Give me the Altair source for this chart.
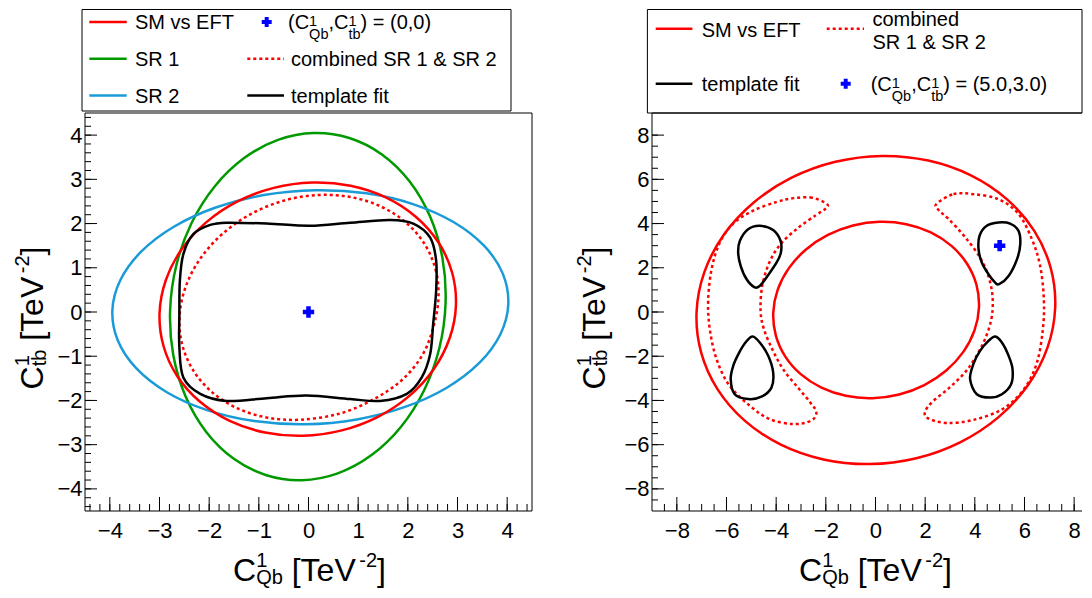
import altair as alt
import pandas as pd

FONT = "Liberation Sans"
H_PLOT = 398
W_LEFT, W_RIGHT = 447, 430
RED, GREEN, BLUE, BLACK, MARK = "#ff0000", "#009a00", "#1a9bd7", "#000000", "#0000ff"

# ---------------- axes ----------------
L_XLIM, L_YLIM = [-4.5, 4.5], [-4.5, 4.5]
R_XLIM, R_YLIM = [-9.0, 8.316], [-9.0, 9.0]
L_LABELS = [-4, -3, -2, -1, 0, 1, 2, 3, 4]
R_LABELS = [-8, -6, -4, -2, 0, 2, 4, 6, 8]
L_MINOR = [round(-4.4 + 0.2 * k, 1) for k in range(45)]
R_MINOR = [-8.5 + 0.5 * k for k in range(34)]

# ---------------- left panel contours ----------------
L_SM_X = [2.969, 2.891, 2.615, 2.159, 1.556, 0.845, 0.076, -0.699, -1.428, -2.061, -2.554, -2.873,
          -2.999, -2.921, -2.645, -2.189, -1.586, -0.875, -0.106, 0.669, 1.398, 2.031, 2.524, 2.843]
L_SM_Y = [0.156, 0.894, 1.576, 2.154, 2.591, 2.855, 2.929, 2.807, 2.500, 2.026, 1.418, 0.718,
          -0.026, -0.764, -1.446, -2.024, -2.461, -2.725, -2.799, -2.677, -2.370, -1.896, -1.288, -0.588]

L_SR1_X = [2.760, 2.697, 2.448, 2.033, 1.478, 0.821, 0.107, -0.615, -1.296, -1.889, -2.354, -2.661,
           -2.786, -2.723, -2.474, -2.059, -1.504, -0.847, -0.133, 0.589, 1.270, 1.863, 2.328, 2.635]
L_SR1_Y = [0.205, 1.218, 2.157, 2.957, 3.564, 3.935, 4.048, 3.893, 3.480, 2.839, 2.013, 1.058,
           0.039, -0.974, -1.913, -2.713, -3.320, -3.691, -3.804, -3.649, -3.236, -2.595, -1.769, -0.814]

L_SR2_X = [4.023, 3.913, 3.539, 2.927, 2.117, 1.166, 0.137, -0.898, -1.869, -2.711, -3.365, -3.787,
           -3.949, -3.839, -3.465, -2.853, -2.043, -1.092, -0.063, 0.972, 1.943, 2.785, 3.439, 3.861]
L_SR2_Y = [0.180, 0.862, 1.493, 2.030, 2.435, 2.683, 2.754, 2.645, 2.363, 1.928, 1.369, 0.724,
           0.037, -0.646, -1.277, -1.814, -2.219, -2.467, -2.538, -2.429, -2.147, -1.712, -1.153, -0.508]

L_COMB_X = [2.614, 2.569, 2.350, 1.971, 1.459, 0.848, 0.180, -0.500, -1.145, -1.711, -2.160, -2.461,
            -2.594, -2.549, -2.330, -1.951, -1.439, -0.828, -0.160, 0.620, 1.300, 1.870, 2.280, 2.500]
L_COMB_Y = [0.265, 0.917, 1.514, 2.014, 2.385, 2.599, 2.645, 2.517, 2.225, 1.788, 1.236, 0.607,
            -0.055, -0.707, -1.304, -1.804, -2.175, -2.389, -2.435, -2.300, -1.980, -1.550, -1.000, -0.397]

L_FIT_X = [-1.65, -0.84, 0.03, 0.84, 1.64, 2.11, 2.45, 2.57, 2.57, 2.51, 2.45, 2.28, 1.98, 1.44, 0.84, -0.04,
           -0.84, -1.65, -2.18, -2.52, -2.60, -2.60, -2.59, -2.52, -2.32, -1.98]
L_FIT_Y = [2.02, 2.00, 1.95, 2.02, 2.08, 2.00, 1.68, 1.16, 0.48, -0.27, -0.95, -1.48, -1.85, -2.01, -1.97, -1.89,
           -1.95, -2.01, -1.85, -1.48, -0.80, -0.05, 0.71, 1.31, 1.76, 1.97]

L_POINT_X, L_POINT_Y = [0.0], [0.0]

# ---------------- right panel contours ----------------
R_OUT_X = [7.236, 7.055, 6.394, 5.298, 3.843, 2.125, 0.265, -1.613, -3.379, -4.914, -6.114, -6.895,
           -7.206, -7.025, -6.364, -5.268, -3.813, -2.095, -0.235, 1.643, 3.409, 4.944, 6.144, 6.925]
R_OUT_Y = [0.195, 1.995, 3.666, 5.092, 6.178, 6.848, 7.059, 6.794, 6.072, 4.944, 3.484, 1.793,
           -0.015, -1.815, -3.486, -4.912, -5.998, -6.668, -6.879, -6.614, -5.892, -4.764, -3.304, -1.613]

R_IN_X = [4.167, 4.065, 3.687, 3.060, 2.226, 1.242, 0.175, -0.902, -1.916, -2.798, -3.487, -3.937,
          -4.117, -4.015, -3.637, -3.010, -2.176, -1.192, -0.125, 0.952, 1.966, 2.848, 3.537, 3.987]
R_IN_Y = [0.206, 1.234, 2.184, 2.992, 3.602, 3.972, 4.078, 3.912, 3.486, 2.828, 1.984, 1.010,
          -0.026, -1.054, -2.004, -2.812, -3.422, -3.792, -3.898, -3.732, -3.306, -2.648, -1.804, -0.830]

R_CL_X = [-1.95, -2.55, -3.30, -4.00, -4.93, -5.73, -6.27, -6.60, -6.74, -6.67, -6.40, -5.90, -5.06, -4.25, -3.31, -2.60, -2.38,
          -2.62, -3.10, -3.70, -4.15, -4.50, -4.63, -4.55, -4.25, -3.80, -3.10, -2.40, -2.02]
R_CL_Y = [4.88, 5.17, 5.15, 4.97, 4.58, 4.00, 3.14, 1.94, 0.50, -0.80, -2.13, -3.30, -4.24, -4.85, -5.07, -4.92, -4.55,
          -4.10, -3.45, -2.62, -1.70, -0.75, 0.10, 1.25, 2.30, 3.10, 3.82, 4.38, 4.66]

R_CR_X = [2.45, 3.14, 3.94, 4.95, 5.75, 6.30, 6.63, 6.78, 6.74, 6.50, 5.98, 5.10, 3.94, 2.87, 2.10, 2.00,
          2.30, 3.00, 3.70, 4.30, 4.65, 4.72, 4.58, 4.25, 3.60, 2.95, 2.55]
R_CR_Y = [4.88, 5.33, 5.33, 5.10, 4.45, 3.29, 2.09, 0.58, -0.78, -2.29, -3.49, -4.40, -4.88, -5.02, -4.80, -4.50,
          -4.05, -3.40, -2.60, -1.50, -0.40, 0.58, 1.50, 2.39, 3.40, 4.20, 4.60]

R_T1_X = [4.98, 5.36, 5.70, 5.83, 5.76, 5.42, 4.95, 4.48, 4.19, 4.15, 4.28, 4.55, 4.82]
R_T1_Y = [1.26, 1.63, 2.39, 3.07, 3.67, 4.00, 4.05, 3.90, 3.45, 2.84, 2.24, 1.71, 1.33]
R_T2_X = [-4.86, -5.19, -5.43, -5.53, -5.46, -5.13, -4.66, -4.12, -3.82, -3.81, -3.98, -4.39, -4.66]
R_T2_Y = [1.11, 1.48, 2.09, 2.69, 3.22, 3.74, 3.90, 3.71, 3.21, 2.69, 2.24, 1.56, 1.18]
R_T3_X = [-4.95, -4.66, -4.32, -4.12, -4.19, -4.59, -5.13, -5.67, -5.83, -5.73, -5.49, -5.22]
R_T3_Y = [-1.11, -1.38, -1.98, -2.74, -3.42, -3.83, -3.94, -3.72, -3.04, -2.44, -1.84, -1.36]
R_T4_X = [4.82, 5.09, 5.36, 5.52, 5.46, 5.09, 4.62, 4.08, 3.81, 3.94, 4.21, 4.55]
R_T4_Y = [-1.11, -1.38, -1.98, -2.59, -3.27, -3.72, -3.87, -3.72, -3.04, -2.36, -1.76, -1.31]

R_POINT_X, R_POINT_Y = [5.0], [3.0]

# ---------------- legend / title texts ----------------
LEG_SM, LEG_SR1, LEG_SR2 = "SM vs EFT", "SR 1", "SR 2"
LEG_COMB, LEG_COMB_A, LEG_COMB_B = "combined SR 1 & SR 2", "combined", "SR 1 & SR 2"
LEG_FIT = "template fit"
L_PT_LABEL = [("(C", "n"), ("1", "sup"), ("Qb", "sub"), (",C", "n"), ("1", "sup"), ("tb", "sub"), (") = (0,0)", "n")]
R_PT_LABEL = [("(C", "n"), ("1", "sup"), ("Qb", "sub"), (",C", "n"), ("1", "sup"), ("tb", "sub"), (") = (5.0,3.0)", "n")]
X_TITLE = [("C", "n"), ("1", "sup"), ("Qb", "sub"), (" [TeV", "n"), ("-2", "sup"), ("]", "n")]
Y_TITLE = [("C", "n"), ("1", "sup"), ("tb", "sub"), (" [TeV", "n"), ("-2", "sup"), ("]", "n")]

# Liberation Sans advance widths (1/1000 em)
ADV = {' ': 278, '(': 333, ')': 333, ',': 278, '=': 584, '[': 278, ']': 278, '-': 333, '&': 667, '.': 278,
       'C': 722, 'E': 667, 'F': 611, 'M': 833, 'Q': 778, 'R': 722, 'S': 667, 'T': 611, 'V': 667,
       'a': 556, 'b': 556, 'c': 500, 'd': 556, 'e': 556, 'f': 278, 'i': 222, 'l': 222, 'm': 833,
       'n': 556, 'o': 556, 'p': 556, 's': 500, 't': 278, 'u': 556, 'v': 500}


def adv(s, fs):
    return sum(ADV.get(ch, 556) for ch in s) * fs / 1000.0


def rich(segs, fs, sfs, up, down):
    out, pos, k = [], 0.0, 0
    while k < len(segs):
        t, r = segs[k]
        if r == "n":
            lead = len(t) - len(t.lstrip(" "))
            pos += adv(" " * lead, fs)
            t = t.lstrip(" ")
            out.append((pos, 0.0, t, fs))
            pos += adv(t, fs)
            k += 1
        elif r == "sup" and k + 1 < len(segs) and segs[k + 1][1] == "sub":
            t2 = segs[k + 1][0]
            out.append((pos, -up, t, sfs))
            out.append((pos, down, t2, sfs))
            pos += max(adv(t, sfs), adv(t2, sfs))
            k += 2
        elif r == "sup":
            out.append((pos, -up, t, sfs))
            pos += adv(t, sfs)
            k += 1
        else:
            out.append((pos, down, t, sfs))
            pos += adv(t, sfs)
            k += 1
    return out, pos


TITLE_P = (32, 20, 14.0, 2.5)
LEG_P = (20, 14.5, 3.5, 10.0)


def contour_df(items):
    rows = []
    for name, xs, ys in items:
        for i, (a, b) in enumerate(zip(xs, ys)):
            rows.append({"c": name, "i": i, "x": a, "y": b})
    return pd.DataFrame(rows)


def panel(width, xlim, ylim, lines, point, labels, minor, box, leg_lines, leg_cross, htexts, rtexts,
          right_frame=True, anchor=None):
    def to_x(px):
        return xlim[0] + px * (xlim[1] - xlim[0]) / width

    def to_y(py):
        return ylim[1] - py * (ylim[1] - ylim[0]) / H_PLOT

    sx = alt.Scale(domain=xlim, nice=False, zero=False)
    sy = alt.Scale(domain=ylim, nice=False, zero=False)
    ax = alt.Axis(values=labels, format="d", title=None, ticks=False, domain=False, grid=False,
                  labelFont=FONT, labelFontSize=22, labelColor="black", labelPadding=9,
                  labelFlush=False, labelOverlap=False)
    ay = alt.Axis(values=labels, format="d", title=None, ticks=False, domain=False, grid=False,
                  labelFont=FONT, labelFontSize=22, labelColor="black", labelPadding=3,
                  labelOverlap=False)

    def X(f="x"):
        return alt.X(f, type="quantitative", scale=sx, axis=ax)

    def Y(f="y"):
        return alt.Y(f, type="quantitative", scale=sy, axis=ay)

    layers = []
    bx = pd.DataFrame([{"x": to_x(box[0]), "x2": to_x(box[1]), "y": to_y(box[2]), "y2": to_y(box[3])}])
    layers.append(alt.Chart(bx).mark_rect(fill="white", stroke="black", strokeWidth=1)
                  .encode(x=X(), x2="x2", y=Y(), y2="y2"))
    for items, color, dotted in lines:
        kw = dict(interpolate="cardinal-closed", color=color, strokeWidth=2.5)
        if dotted:
            kw["strokeDash"] = [3, 3]
        layers.append(alt.Chart(contour_df(items)).mark_line(**kw)
                      .encode(x=X(), y=Y(), detail="c:N", order="i:Q"))
    hf = pd.DataFrame({"x": [xlim[0], xlim[0]], "x2": [xlim[1], xlim[1]], "y": [ylim[0], ylim[1]]})
    layers.append(alt.Chart(hf).mark_rule(color="black", strokeWidth=1).encode(x=X(), x2="x2", y=Y()))
    vx = [xlim[0], xlim[1]] if right_frame else [xlim[0]]
    vf = pd.DataFrame({"x": vx, "y": [ylim[0]] * len(vx), "y2": [ylim[1]] * len(vx)})
    layers.append(alt.Chart(vf).mark_rule(color="black", strokeWidth=1).encode(x=X(), y=Y(), y2="y2"))
    mn = pd.DataFrame({"v": minor})
    mj = pd.DataFrame({"v": labels})
    layers.append(alt.Chart(mn).mark_rule(color="black", strokeWidth=1)
                  .encode(x=X("v"), y=alt.value(H_PLOT), y2=alt.value(H_PLOT - 7)))
    layers.append(alt.Chart(mj).mark_rule(color="black", strokeWidth=1)
                  .encode(x=X("v"), y=alt.value(H_PLOT), y2=alt.value(H_PLOT - 14)))
    layers.append(alt.Chart(mn).mark_rule(color="black", strokeWidth=1)
                  .encode(y=Y("v"), x=alt.value(0), x2=alt.value(6)))
    layers.append(alt.Chart(mj).mark_rule(color="black", strokeWidth=1)
                  .encode(y=Y("v"), x=alt.value(0), x2=alt.value(12)))
    layers.append(alt.Chart(pd.DataFrame({"x": point[0], "y": point[1]}))
                  .mark_point(shape="cross", filled=True, color=MARK, size=130, opacity=1)
                  .encode(x=X(), y=Y()))
    for (x0, x1, yy, color, dotted) in leg_lines:
        kw = dict(color=color, strokeWidth=2.5)
        if dotted:
            kw["strokeDash"] = [3, 3]
        d = pd.DataFrame([{"x": to_x(x0), "x2": to_x(x1), "y": to_y(yy)}])
        layers.append(alt.Chart(d).mark_rule(**kw).encode(x=X(), x2="x2", y=Y()))
    d = pd.DataFrame([{"x": to_x(leg_cross[0]), "y": to_y(leg_cross[1])}])
    layers.append(alt.Chart(d).mark_point(shape="cross", filled=True, color=MARK, size=100, opacity=1)
                  .encode(x=X(), y=Y()))
    rows = [{"x": to_x(a), "y": to_y(b), "t": t, "fs": fs} for (a, b, t, fs) in htexts]
    layers.append(alt.Chart(pd.DataFrame(rows)).mark_text(align="left", baseline="alphabetic", font=FONT, color="black")
                  .encode(x=X(), y=Y(), text="t:N", size=alt.Size("fs:Q", scale=None)))
    rows = [{"x": to_x(a), "y": to_y(b), "t": t, "fs": fs} for (a, b, t, fs) in rtexts]
    layers.append(alt.Chart(pd.DataFrame(rows)).mark_text(align="left", baseline="alphabetic", font=FONT,
                                                         color="black", angle=270)
                  .encode(x=X(), y=Y(), text="t:N", size=alt.Size("fs:Q", scale=None)))
    if anchor is not None:
        d = pd.DataFrame([{"x": to_x(anchor), "y": to_y(0), "y2": to_y(10)}])
        layers.append(alt.Chart(d).mark_rule(strokeOpacity=0, color="white").encode(x=X(), y=Y(), y2="y2"))
    return alt.layer(*layers).properties(width=width, height=H_PLOT)


def htext(segs, x0, base, p, center=False):
    pieces, total = rich(segs, *p)
    if center:
        x0 = x0 - total / 2
    return [(x0 + a, base + s, t, fs) for (a, s, t, fs) in pieces]


def vtext(segs, xbase, ycenter, p):
    pieces, total = rich(segs, *p)
    y0 = ycenter + total / 2
    return [(xbase + s, y0 - a, t, fs) for (a, s, t, fs) in pieces]


def plain(t, x, base, fs=20):
    return [(x, base, t, fs)]


TITLE_BASE = 468.0

# ---------------- left panel ----------------
LB = [-83.7, -47.0, -10.3]
L_lines = [
    ([("sr1", L_SR1_X, L_SR1_Y)], GREEN, False),
    ([("sr2", L_SR2_X, L_SR2_Y)], BLUE, False),
    ([("sm", L_SM_X, L_SM_Y)], RED, False),
    ([("comb", L_COMB_X, L_COMB_Y)], RED, True),
    ([("fit", L_FIT_X, L_FIT_Y)], BLACK, False),
]
L_leg_lines = [
    (4.3, 41.7, LB[0] - 7.3, RED, False),
    (4.3, 41.7, LB[1] - 7.3, GREEN, False),
    (4.3, 41.7, LB[2] - 7.3, BLUE, False),
    (162.3, 199.0, LB[1] - 7.3, RED, True),
    (162.3, 199.0, LB[2] - 7.3, BLACK, False),
]
L_ht = (plain(LEG_SM, 50, LB[0]) + plain(LEG_SR1, 50, LB[1]) + plain(LEG_SR2, 50, LB[2])
        + htext(L_PT_LABEL, 203, LB[0], LEG_P) + plain(LEG_COMB, 206, LB[1]) + plain(LEG_FIT, 206, LB[2])
        + htext(X_TITLE, 224.5, TITLE_BASE, TITLE_P, center=True))
L_rt = vtext(Y_TITLE, -41.7, 205, TITLE_P)
left = panel(W_LEFT, L_XLIM, L_YLIM, L_lines, (L_POINT_X, L_POINT_Y), L_LABELS, L_MINOR,
             (-3, 426, -103.5, -2), L_leg_lines, (181.7, LB[0] - 7.3), L_ht, L_rt, anchor=-76.5)

# ---------------- right panel ----------------
R_lines = [
    ([("out", R_OUT_X, R_OUT_Y), ("in", R_IN_X, R_IN_Y)], RED, False),
    ([("cl", R_CL_X, R_CL_Y), ("cr", R_CR_X, R_CR_Y)], RED, True),
    ([("t1", R_T1_X, R_T1_Y), ("t2", R_T2_X, R_T2_Y), ("t3", R_T3_X, R_T3_Y), ("t4", R_T4_X, R_T4_Y)], BLACK, False),
]
R_leg_lines = [
    (3.7, 40.4, -84.2, RED, False),
    (174.7, 212.0, -84.2, RED, True),
    (3.7, 40.4, -29.2, BLACK, False),
]
R_ht = (plain(LEG_SM, 49.7, -75.8) + plain(LEG_COMB_A, 220.4, -87.5) + plain(LEG_COMB_B, 220.4, -64.2)
        + plain(LEG_FIT, 49.7, -21.8) + htext(R_PT_LABEL, 218.7, -21.8, LEG_P)
        + htext(X_TITLE, 223.5, TITLE_BASE, TITLE_P, center=True))
R_rt = vtext(Y_TITLE, -47.3, 205, TITLE_P)
right = panel(W_RIGHT, R_XLIM, R_YLIM, R_lines, (R_POINT_X, R_POINT_Y), R_LABELS, R_MINOR,
              (-4.6, W_RIGHT, -103.5, 0), R_leg_lines, (193.7, -29.2), R_ht, R_rt, right_frame=False)

chart = (alt.hconcat(left, right, spacing=120, bounds="flush")
         .properties(padding={"left": 0, "top": 0, "right": 0, "bottom": 0}, background="white")
         .configure(padding={"left": 0, "top": 0, "right": 0, "bottom": 0})
         .configure_view(stroke=None))

chart.save("out.html", embed_options={"renderer": "svg", "actions": False})
